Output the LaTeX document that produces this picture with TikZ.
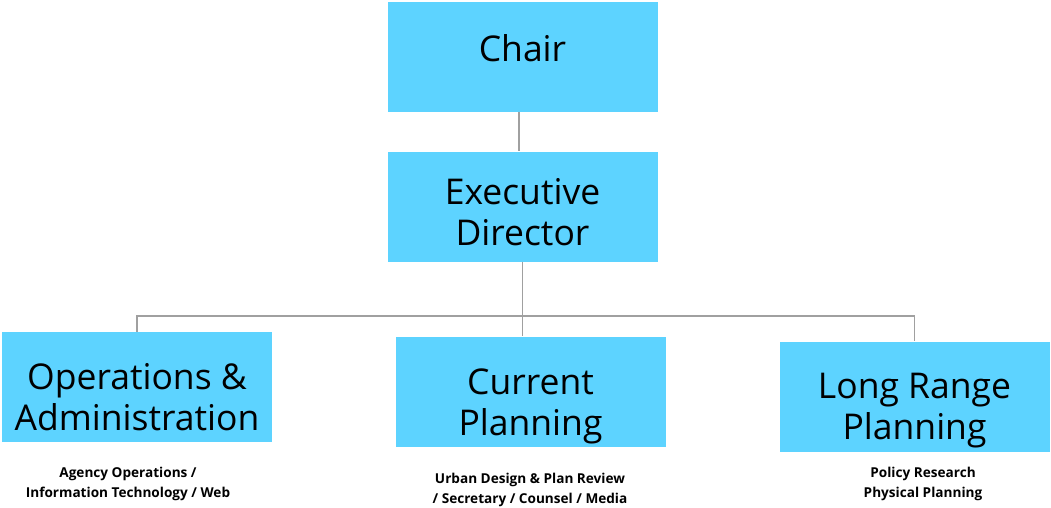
\documentclass[tikz,border=0pt]{standalone}
\usepackage{fontspec}
\setmainfont{Open Sans}
\usetikzlibrary{positioning}
\definecolor{boxblue}{RGB}{93,211,255}
\definecolor{linegray}{RGB}{160,160,160}

\begin{document}
\begin{tikzpicture}[x=1pt, y=-1pt,
		box/.style={rectangle, fill=boxblue, minimum width=270pt,
			minimum height=110pt, inner sep=0pt},
		boxtext/.style={align=center, inner sep=0pt,
			font=\fontsize{35.5}{41}\selectfont},
		note/.style={align=center, inner sep=0pt,
			font=\fontsize{13.6}{19.5}\selectfont\bfseries},
		line/.style={draw=linegray, line width=1.5pt}]
	\useasboundingbox (0,0) rectangle (1051,508);

	% Chair and director
	\node[box] (chair) at (522.5,57) {};
	\node[boxtext] (chairtext) at ([yshift=9pt]chair.center) {Chair};
	\node[box] (exec) at (522.5,206.5) {};
	\node[boxtext] (exectext) at ([yshift=-6pt]exec.center) {Executive\\Director};
	\draw[line] ([xshift=-3.5pt]chair.south) -- ([xshift=-3.5pt]exec.north);

	% Departments
	\node[box] (ops) at (137,387) {};
	\node[boxtext] (opstext) at ([yshift=-10pt]ops.center) {Operations \&\\Administration};
	\node[box] (cur) at (530.5,391.5) {};
	\node[boxtext] (curtext) at ([yshift=-15pt]cur.center) {Current\\Planning};
	\node[box] (lrp) at (914.5,396.5) {};
	\node[boxtext] (lrptext) at ([yshift=-14pt]lrp.center) {Long Range\\Planning};

	% Department duties
	\node[note] (opsnote) at (128,484) {Agency Operations /\\Information Technology / Web};
	\node[note] (curnote) at (530,490) {Urban Design \& Plan Review\\/ Secretary / Counsel / Media};
	\node[note] (lrpnote) at (923,484) {Policy Research\\Physical Planning};

	% Branches
	\coordinate (bus) at (0,316);
	\draw[line] (exec.south) -- (exec.south |- cur.north);
	\draw[line] (ops.north) |- (lrp.north |- bus) -- (lrp.north);
\end{tikzpicture}
\end{document}
